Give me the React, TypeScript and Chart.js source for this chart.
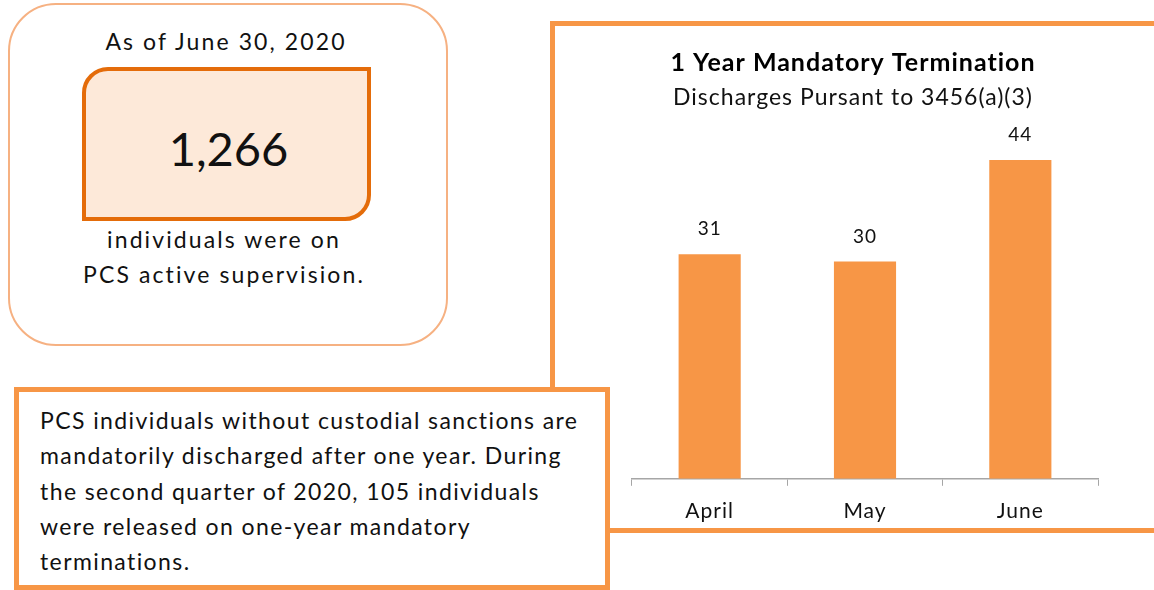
import React, { useEffect, useRef } from "react";
import { Chart, registerables } from "chart.js";

Chart.register(...registerables);

const categories: string[] = ["April", "May", "June"];
const discharges: number[] = [31, 30, 44];
const chartTitle = "1 Year Mandatory Termination";
const chartSubtitle = "Discharges Pursant to 3456(a)(3)";
const headline = "As of June 30, 2020";
const totalActive = "1,266";
const activeLines: string[] = ["individuals were on", "PCS active supervision."];
const noteLines: string[] = [
  "PCS individuals without custodial sanctions are",
  "mandatorily discharged after one year. During",
  "the second quarter of 2020, 105 individuals",
  "were released on one-year mandatory",
  "terminations.",
];

const FONT = "Lato, 'Open Sans', sans-serif";
const ORANGE = "#f79646";

const spacing = {
  id: "spacing",
  beforeUpdate(chart: any) {
    chart.ctx.letterSpacing = "1px";
  },
  beforeDraw(chart: any) {
    chart.ctx.letterSpacing = "1px";
  },
};

const valueLabels = {
  id: "valueLabels",
  afterDatasetsDraw(chart: any) {
    const ctx = chart.ctx;
    const meta = chart.getDatasetMeta(0);
    ctx.save();
    ctx.font = `19px ${FONT}`;
    ctx.fillStyle = "#111";
    ctx.textAlign = "center";
    ctx.textBaseline = "middle";
    meta.data.forEach((bar: any, i: number) => {
      ctx.fillText(String(chart.data.datasets[0].data[i]), bar.x, bar.y - 25);
    });
    ctx.restore();
  },
};

function BarChart() {
  const ref = useRef<HTMLCanvasElement | null>(null);
  useEffect(() => {
    if (!ref.current) return;
    const chart = new Chart(ref.current, {
      type: "bar",
      data: {
        labels: categories,
        datasets: [
          {
            data: discharges,
            backgroundColor: ORANGE,
            borderWidth: 0,
            barPercentage: 0.4,
            categoryPercentage: 1,
          },
        ],
      },
      options: {
        animation: false,
        responsive: false,
        maintainAspectRatio: false,
        layout: { padding: { left: 52, right: 56, top: 0, bottom: 0 } },
        plugins: {
          legend: { display: false },
          tooltip: { enabled: false },
          title: {
            display: true,
            text: chartTitle,
            color: "#000",
            font: { family: FONT, size: 25, weight: "bold" },
            padding: { top: 22, bottom: 6 },
          },
          subtitle: {
            display: true,
            text: chartSubtitle,
            color: "#111",
            font: { family: FONT, size: 23, weight: "normal" },
            padding: { top: 0, bottom: 5 },
          },
        },
        scales: {
          x: {
            grid: {
              display: true,
              offset: true,
              drawOnChartArea: false,
              drawTicks: true,
              tickLength: 7,
              color: "#a6a6a6",
            },
            border: { display: true, color: "#a6a6a6", width: 1.5 },
            ticks: {
              color: "#111",
              font: { family: FONT, size: 21 },
              padding: 13,
            },
          },
          y: {
            display: true,
            min: 0,
            max: 50,
            grid: { display: false },
            border: { display: false },
            ticks: { display: false },
            afterFit(scale: any) {
              scale.width = 24;
            },
          },
        },
      },
      plugins: [spacing, valueLabels],
    });
    return () => chart.destroy();
  }, []);
  return <canvas ref={ref} width={598} height={511} style={{ display: "block" }} />;
}

export default function App() {
  return (
    <div
      style={{
        position: "absolute",
        left: 0,
        top: 0,
        width: 1154,
        height: 590,
        overflow: "hidden",
        background: "#fff",
        fontFamily: FONT,
        color: "#111",
      }}
    >
      {/* left rounded summary box */}
      <div
        style={{
          position: "absolute",
          left: 8,
          top: 3,
          width: 440,
          height: 343,
          border: "2px solid #f6b182",
          borderRadius: 48,
          boxSizing: "border-box",
        }}
      />
      <div
        style={{
          position: "absolute",
          left: 6,
          top: 25,
          width: 440,
          textAlign: "center",
          fontSize: 23,
          letterSpacing: "2.1px",
          lineHeight: "32px",
        }}
      >
        {headline}
      </div>
      <div
        style={{
          position: "absolute",
          left: 82,
          top: 67,
          width: 289,
          height: 154,
          boxSizing: "border-box",
          background: "#fde9d9",
          border: "4px solid #e46c0a",
          borderRadius: "26px 0 26px 0",
          display: "flex",
          alignItems: "center",
          justifyContent: "center",
          paddingTop: 8,
          paddingLeft: 4,
          fontSize: 47,
        }}
      >
        {totalActive}
      </div>
      <div
        style={{
          position: "absolute",
          left: 4,
          top: 222,
          width: 440,
          textAlign: "center",
          fontSize: 23,
          letterSpacing: "2.1px",
          lineHeight: "35px",
        }}
      >
        {activeLines.map((l, i) => (
          <div key={i}>{l}</div>
        ))}
      </div>

      {/* chart box */}
      <div
        style={{
          position: "absolute",
          left: 550,
          top: 21,
          width: 640,
          height: 512,
          boxSizing: "border-box",
          border: `5px solid ${ORANGE}`,
          background: "#fff",
        }}
      />
      <div style={{ position: "absolute", left: 556, top: 26 }}>
        <BarChart />
      </div>

      {/* note box */}
      <div
        style={{
          position: "absolute",
          left: 14,
          top: 387,
          width: 596,
          height: 203,
          boxSizing: "border-box",
          border: `5px solid ${ORANGE}`,
          background: "#fff",
          padding: "11px 0 0 21px",
          fontSize: 23,
          letterSpacing: "1.4px",
          lineHeight: "35.3px",
          whiteSpace: "nowrap",
        }}
      >
        {noteLines.map((l, i) => (
          <div key={i}>{l}</div>
        ))}
      </div>
    </div>
  );
}
